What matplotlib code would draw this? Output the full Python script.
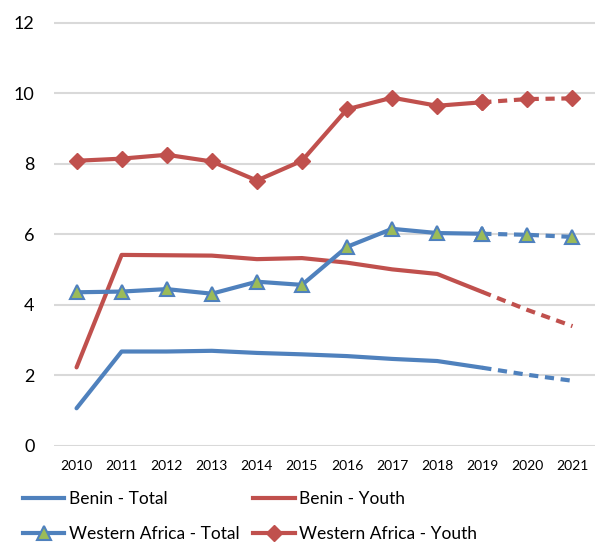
import matplotlib
matplotlib.use("Agg")
import matplotlib.pyplot as plt
from matplotlib.lines import Line2D

years = [str(y) for y in range(2010, 2022)]
benin_total = [1.07, 2.68, 2.68, 2.70, 2.64, 2.60, 2.55, 2.47, 2.41, 2.22, 2.02, 1.85]
benin_youth = [2.23, 5.42, 5.41, 5.40, 5.30, 5.33, 5.20, 5.01, 4.88, 4.37, 3.86, 3.40]
wa_total = [4.36, 4.38, 4.45, 4.32, 4.66, 4.57, 5.65, 6.16, 6.04, 6.02, 5.99, 5.93]
wa_youth = [8.09, 8.15, 8.26, 8.07, 7.53, 8.09, 9.55, 9.88, 9.65, 9.75, 9.84, 9.86]
split = 9  # 2019: last observed year, rest are projections

blue = "#4F81BD"
red = "#C0504D"
green = "#9BBB59"

plt.rcParams["font.family"] = ["Lato", "DejaVu Sans"]

fig = plt.figure(figsize=(5.95, 5.43), dpi=100)
ax = fig.add_axes([54 / 595, 97 / 543, 1 - 54 / 595, 446 / 543])

x = list(range(len(years)))
lw = 3.0


def draw(vals, color, **mk):
    ax.plot(x[:split + 1], vals[:split + 1], color=color, lw=lw, solid_capstyle="round", **mk)
    ax.plot(x[split:], vals[split:], color=color, lw=lw, ls=(0, (2.2, 1.6)), **mk)


draw(benin_total, blue)
draw(benin_youth, red)
tri = dict(marker="^", markersize=10, markerfacecolor=green, markeredgecolor=blue, markeredgewidth=1.5)
draw(wa_total, blue, **tri)
dia = dict(marker="D", markersize=8, markerfacecolor=red, markeredgecolor=red)
draw(wa_youth, red, **dia)

ax.set_xlim(-0.5, len(years) - 0.5)
ax.set_ylim(0, 12.65)
ax.set_xticks(x)
ax.set_xticklabels(years, fontsize=10)
ax.set_yticks([0, 2, 4, 6, 8, 10, 12])
ax.tick_params(axis="y", labelsize=13, length=0, pad=14)
ax.tick_params(axis="x", length=0, pad=10)
ax.grid(axis="y", color="#D9D9D9", lw=1.5)
ax.set_axisbelow(True)
for s in ax.spines.values():
    s.set_visible(False)

handles = [
    Line2D([], [], color=blue, lw=lw),
    Line2D([], [], color=blue, lw=lw, **tri),
    Line2D([], [], color=red, lw=lw),
    Line2D([], [], color=red, lw=lw, **dia),
]
labels = ["Benin - Total", "Western Africa - Total", "Benin - Youth", "Western Africa - Youth"]
fig.legend(handles, labels, ncol=2, loc="upper left", bbox_to_anchor=(0.012, 0.124),
           frameon=False, fontsize=12.5, handlelength=2.4, handletextpad=0.25,
           columnspacing=0.8, labelspacing=1.1)

fig.savefig("out.png", dpi=100)
